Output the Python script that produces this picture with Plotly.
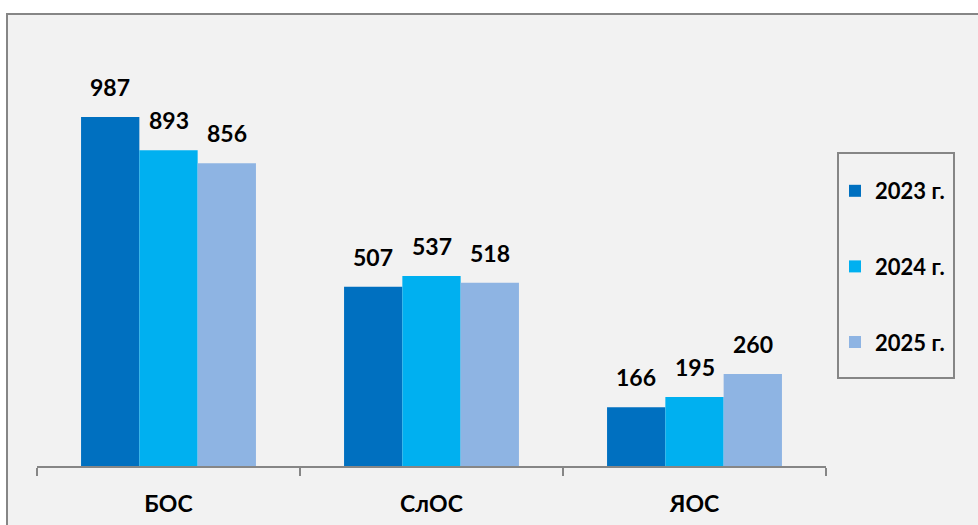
import plotly.graph_objects as go

categories = ["БОС", "СлОС", "ЯОС"]
series_names = ["2023 г.", "2024 г.", "2025 г."]
values_2023 = [987, 507, 166]
values_2024 = [893, 537, 195]
values_2025 = [856, 518, 260]
colors = ["#0070C0", "#00B0F0", "#8EB4E3"]

all_values = [values_2023, values_2024, values_2025]

W, H = 978, 525
ml, mr, mt, mb = 37, 152, 77, 59
plot_w = W - ml - mr
plot_h = H - mt - mb
bargap = 0.335
ymax = 1100

fig = go.Figure()
for name, vals, col in zip(series_names, all_values, colors):
    fig.add_trace(go.Bar(
        x=categories, y=vals, name=name, marker=dict(color=col, line=dict(width=0)),
        legendgroup=name, hoverinfo="skip",
    ))

bar_px = plot_w / len(categories) * (1 - bargap) / len(series_names)
font = "Lato, 'Open Sans', sans-serif"
annotations = []
for i, vals in enumerate(all_values):
    for c, v in zip(categories, vals):
        annotations.append(dict(
            x=c, y=v, xref="x", yref="y", text=f"<b>{v}</b>", showarrow=False,
            xshift=(i - 1) * bar_px, yanchor="bottom", yshift=14,
            font=dict(family=font, size=23, color="#000000"),
        ))

def px_x(px):
    return (px - ml) / plot_w

def px_y(py):
    return (H - mb - py) / plot_h

fig.update_layout(
    width=W, height=H,
    margin=dict(l=ml, r=mr, t=mt, b=mb, autoexpand=False),
    paper_bgcolor="#ffffff",
    plot_bgcolor="rgba(0,0,0,0)",
    barmode="group", bargap=bargap, bargroupgap=0,
    font=dict(family=font, size=22, color="#000000"),
    showlegend=True,
    legend=dict(
        x=px_x(835), y=px_y(170), xanchor="left", yanchor="top",
        bgcolor="rgba(0,0,0,0)", borderwidth=0,
        font=dict(family=font, size=22, color="#000000", weight="bold"),
        traceorder="grouped", tracegroupgap=44,
        itemwidth=30,
    ),
    xaxis=dict(
        showline=True, linecolor="#868686", linewidth=1.5,
        ticks="outside", tickson="boundaries", ticklen=8, tickcolor="#868686", tickwidth=1.5,
        tickfont=dict(family=font, size=23, color="#000000", weight="bold"),
        ticklabelstandoff=17, showgrid=False, zeroline=False, automargin=False,
    ),
    yaxis=dict(range=[0, ymax], visible=False, showgrid=False, zeroline=False, automargin=False),
    shapes=[
        dict(
            type="rect", xref="paper", yref="paper", layer="below",
            x0=px_x(7), x1=px_x(990), y0=px_y(540), y1=px_y(14),
            fillcolor="#f2f2f2", line=dict(color="#868686", width=2),
        ),
        dict(
            type="rect", xref="paper", yref="paper", layer="below",
            x0=px_x(838), x1=px_x(954), y0=px_y(378), y1=px_y(153),
            fillcolor="rgba(0,0,0,0)", line=dict(color="#868686", width=2),
        ),
    ],
    annotations=annotations,
)

fig.write_html(
    "out.html",
    config={"displayModeBar": False},
    post_script="document.body.style.margin='0';document.body.style.padding='0';",
)
